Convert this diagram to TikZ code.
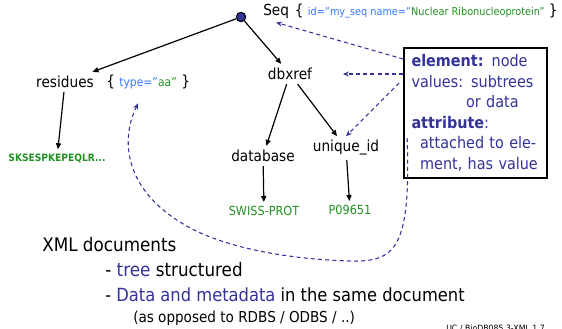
\documentclass[tikz,border=0pt]{standalone}
\usepackage{fontspec}
\setmainfont{DejaVu Sans}[FakeStretch=0.9]
\usepackage{xcolor}
\usepackage{tikz}
\usetikzlibrary{arrows.meta, positioning, calc}
\definecolor{NoteBlue}{RGB}{51, 51, 153}
\definecolor{AttrBlue}{RGB}{51, 119, 255}
\definecolor{ValueGreen}{RGB}{34, 145, 34}

\tikzset{
  treelabel/.style={inner sep=3pt, font=\fontsize{11.4}{13}\selectfont},
  leafvalue/.style={inner sep=3pt, text=ValueGreen, font=\fontsize{9.4}{11}\selectfont},
  treeedge/.style={-{Triangle[length=4.5pt,width=3.8pt]}, line width=0.9pt},
  notearrow/.style={-{Stealth[length=4.5pt,width=3.8pt]}, NoteBlue, line width=0.8pt,
                    dash pattern=on 3pt off 2.4pt},
  bullettext/.style={anchor=west, inner sep=0pt, font=\fontsize{14}{16}\selectfont}
}

\begin{document}
\begin{tikzpicture}[x=0.75pt, y=-0.75pt]
  \useasboundingbox (0,0) rectangle (562,329);

  % tree
  \node[circle, draw=black, fill=NoteBlue, line width=0.8pt, minimum size=7pt, inner sep=0pt] (root) at (241,17) {};
  \node[treelabel, anchor=west] (seq) at (259,11) {Seq};
  \node[treelabel, right=1pt of seq, inner sep=0pt] (seqattr)
    {\{ {\fontsize{8.1}{10}\selectfont\textcolor{AttrBlue}{id="my\_seq name="}\textcolor{ValueGreen}{Nuclear Ribonucleoprotein"}} \}};
  \node[treelabel] (residues) at (65,82) {residues};
  \node[treelabel, anchor=west, inner sep=0pt] (typeattr) at (106,82)
    {\{ {\fontsize{9}{11}\selectfont\textcolor{AttrBlue}{type="}\textcolor{ValueGreen}{aa"}} \}};
  \node[treelabel] (dbxref) at (290,74) {dbxref};
  \node[treelabel] (database) at (263,156) {database};
  \node[treelabel] (uid) at (346,148) {unique\_id};
  \node[leafvalue, font=\fontsize{7.6}{9}\selectfont\bfseries] (residueseq) at (57,158) {SKSESPKEPEQLR...};
  \node[leafvalue] (swissprot) at (264,211) {SWISS-PROT};
  \node[leafvalue] (acc) at (350,210) {P09651};

  \draw[treeedge] (root) -- (residues);
  \draw[treeedge] (root) -- (dbxref);
  \draw[treeedge] (residues) -- (residueseq);
  \draw[treeedge] (dbxref) -- (database);
  \draw[treeedge] (dbxref) -- (uid);
  \draw[treeedge] (database) -- (swissprot);
  \draw[treeedge] (uid) -- (acc);

  % note box
  \node[draw=black, fill=white, line width=1.5pt, minimum width=107pt, minimum height=97.5pt,
        text width=96pt, inner xsep=5.5pt, align=left, text=NoteBlue,
        font=\fontsize{12}{15.4}\selectfont] (note) at (475.5,113)
    {\textbf{element:} node\\
     values: subtrees\\
     \hspace*{41pt}or data\\
     \textbf{attribute}:\\
     \hspace*{6.5pt}attached to ele-\\
     \hspace*{6.5pt}ment, has value};

  \draw[notearrow] ($(note.north west)+(0,12)$) -- (seq.south);
  \draw[notearrow, shorten >=20pt] ($(note.north west)+(0,27)$) -- (dbxref.east);
  \draw[notearrow] ($(note.north west)+(-4,36)$) -- (uid.north);
  \draw[notearrow] ($(note.west)+(4,25)$) .. controls (411,250) and (395,262) .. (350,261)
    .. controls (280,259) and (215,245) .. (180,222)
    .. controls (125,188) and (120,140) .. ($(typeattr.south)+(-10,14)$);

  % bullet text
  \node[bullettext] (xmldocs) at (42,245) {XML documents};
  \node[bullettext] (treeitem) at (105,270) {- \textcolor{NoteBlue}{tree} structured};
  \node[bullettext, font=\fontsize{13.6}{16}\selectfont] (dataitem) at (105,295) {- \textcolor{NoteBlue}{Data and metadata} in the same document};
  \node[bullettext, font=\fontsize{11.3}{13}\selectfont] (aside) at (133,318) {(as opposed to RDBS / ODBS / ..)};
  \node[anchor=east, inner sep=0pt, font=\fontsize{6.5}{8}\selectfont] (footer) at (545,329) {UC / BioDB085 3-XML 1.7};
\end{tikzpicture}
\end{document}
